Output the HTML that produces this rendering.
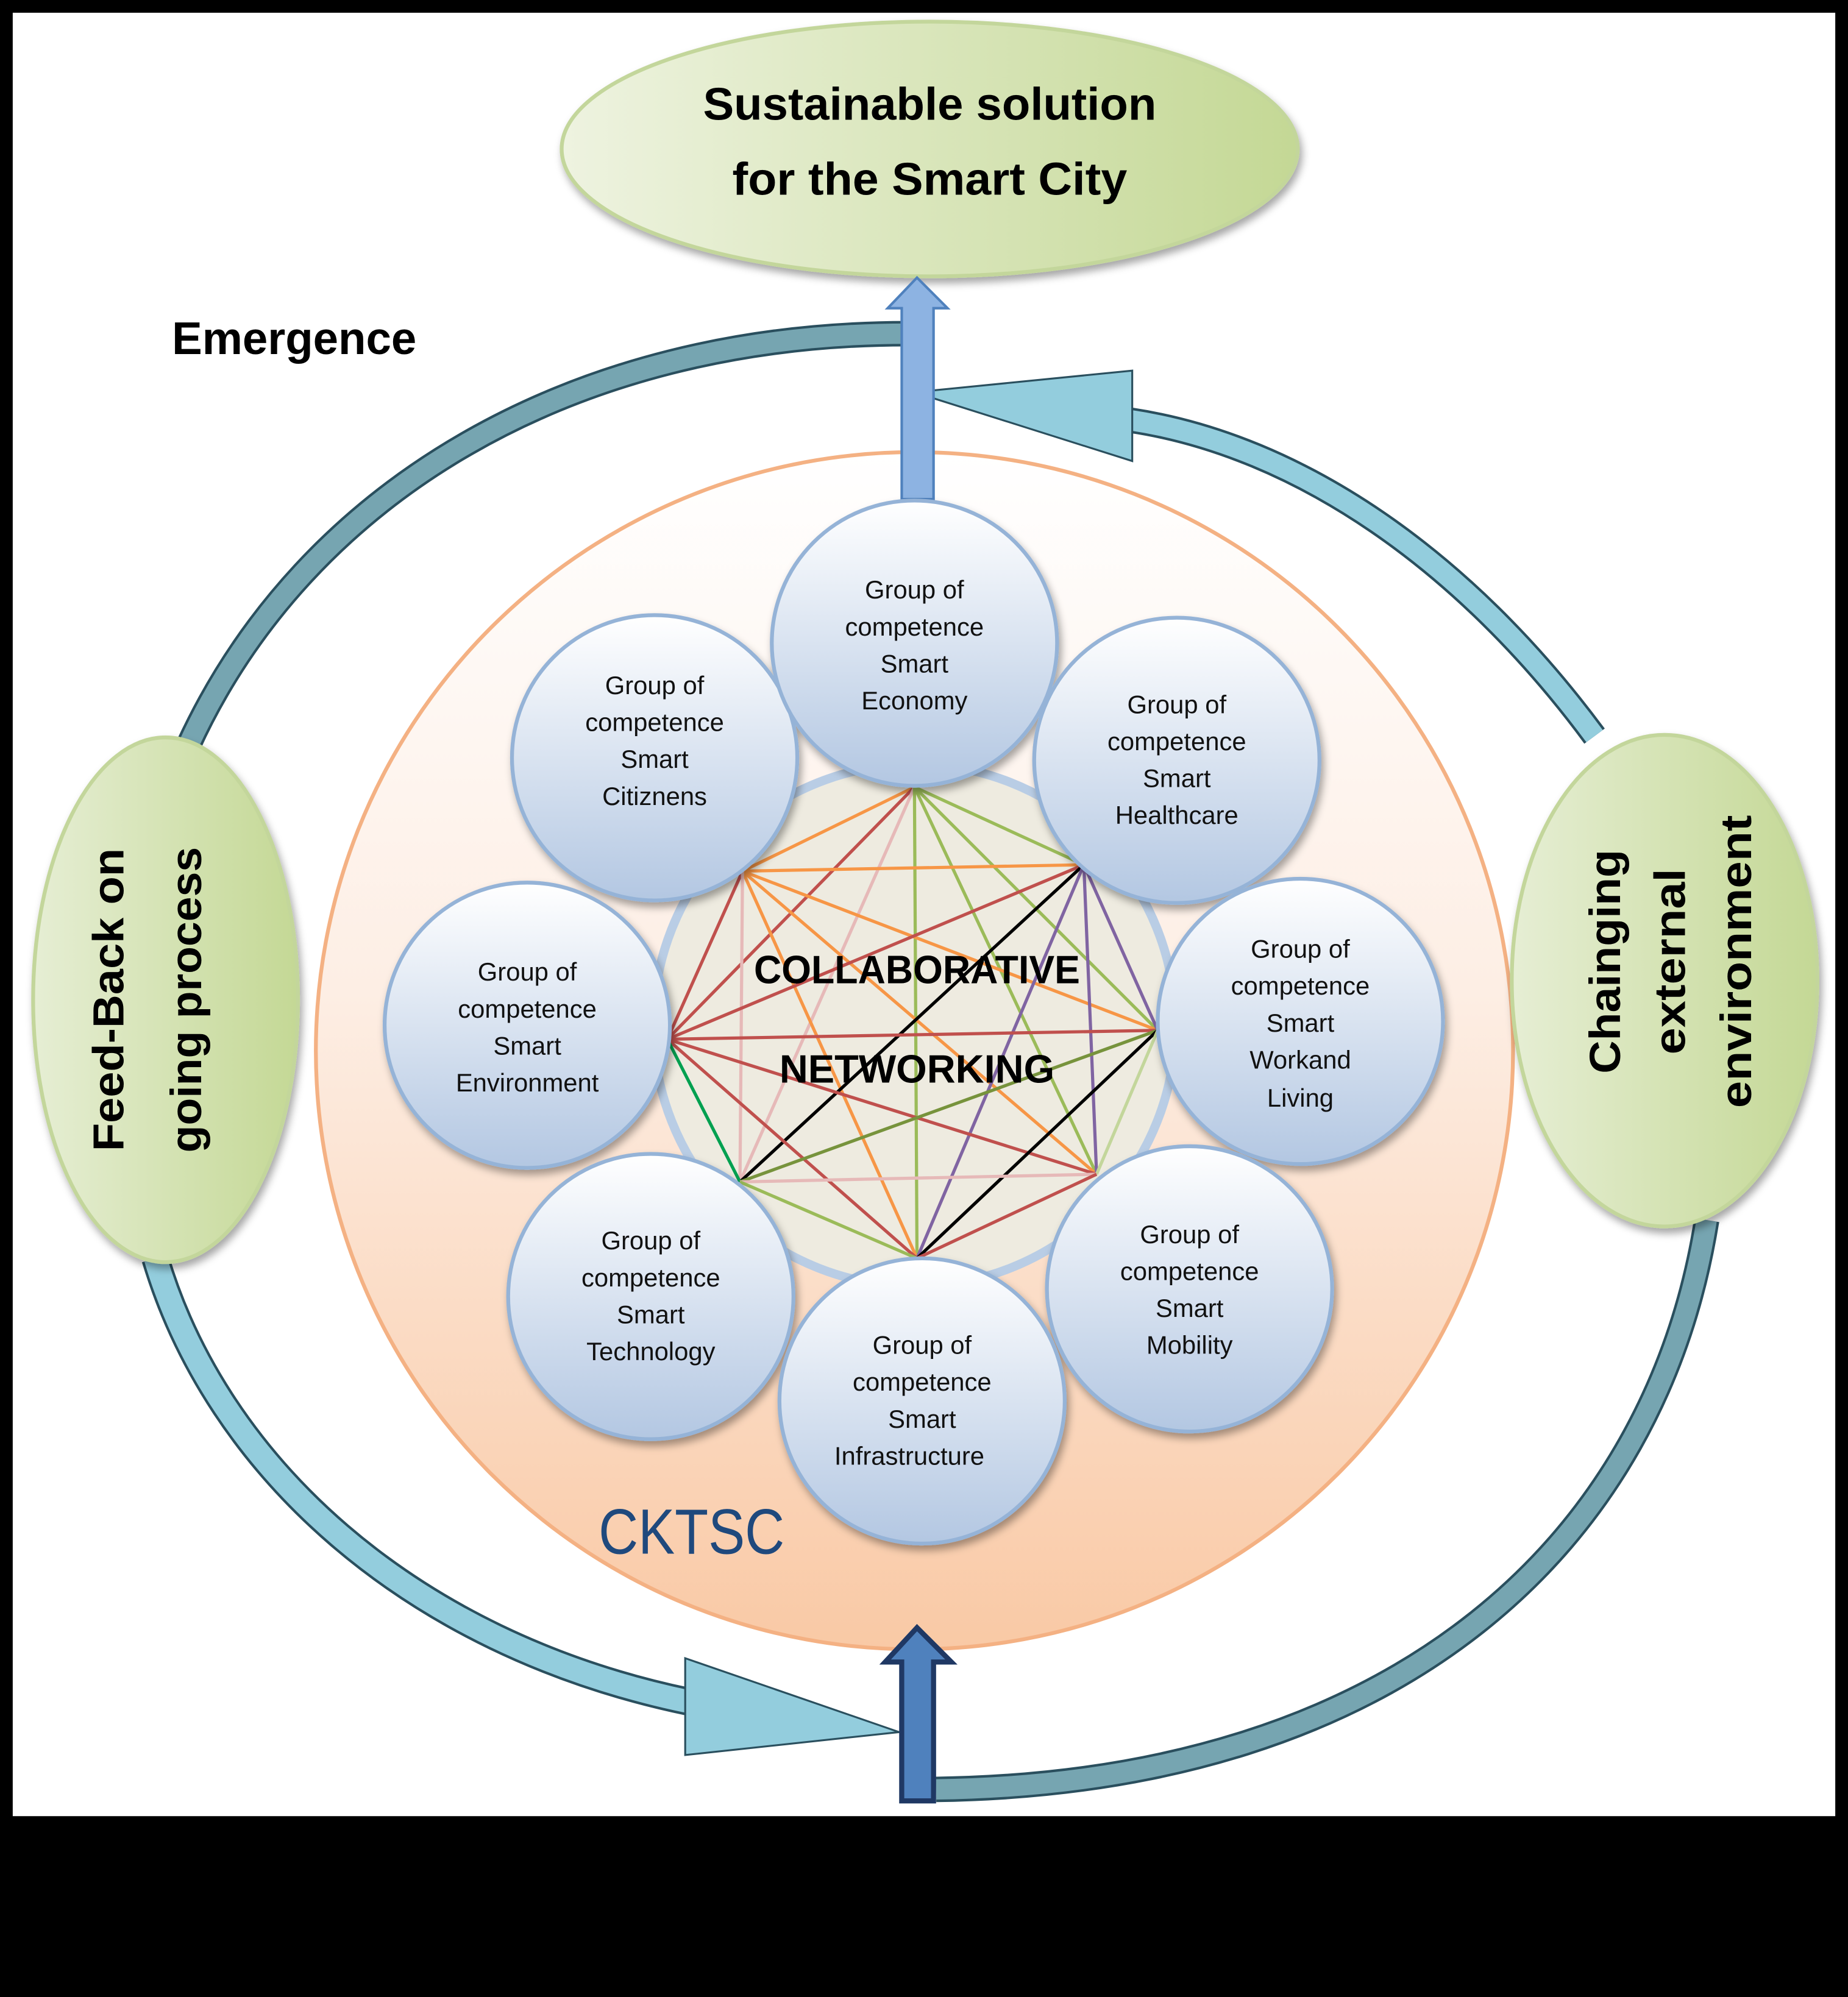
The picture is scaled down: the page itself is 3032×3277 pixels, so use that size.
<!DOCTYPE html>
<html><head><meta charset="utf-8"><style>html,body{margin:0;padding:0;background:#000}svg{display:block}</style></head>
<body>
<svg width="3032" height="3277" viewBox="0 0 1451 1568" preserveAspectRatio="none" xmlns="http://www.w3.org/2000/svg" font-family="'Liberation Sans', sans-serif">
<defs>
<linearGradient id="grn" x1="0" y1="0" x2="1" y2="0"><stop offset="0" stop-color="#eef3e0"/><stop offset="1" stop-color="#c4d895"/></linearGradient>
<linearGradient id="grnv" x1="0" y1="0" x2="1" y2="0"><stop offset="0" stop-color="#e6eed4"/><stop offset="1" stop-color="#c4d895"/></linearGradient>
<linearGradient id="org" x1="0" y1="0" x2="0" y2="1"><stop offset="0" stop-color="#ffffff"/><stop offset="0.45" stop-color="#fdeee4"/><stop offset="1" stop-color="#f9c9a5"/></linearGradient>
<linearGradient id="blu" x1="0" y1="0" x2="0" y2="1"><stop offset="0" stop-color="#ffffff"/><stop offset="1" stop-color="#b3c7e2"/></linearGradient>
<filter id="sh" x="-20%" y="-20%" width="140%" height="140%"><feDropShadow dx="2" dy="4" stdDeviation="3" flood-color="#000" flood-opacity="0.35"/></filter>
</defs>
<rect x="10" y="10" width="1431" height="1416" fill="#fff"/>

<!-- top ellipse -->
<ellipse cx="730" cy="117" rx="289" ry="100" fill="url(#grn)" stroke="#c3d69b" stroke-width="3" filter="url(#sh)"/>
<text x="730" y="94" font-size="36" font-weight="bold" text-anchor="middle" textLength="356" lengthAdjust="spacingAndGlyphs">Sustainable solution</text>
<text x="730" y="153" font-size="36" font-weight="bold" text-anchor="middle" textLength="310" lengthAdjust="spacingAndGlyphs">for the Smart City</text>
<text x="135" y="278" font-size="36" font-weight="bold" textLength="192" lengthAdjust="spacingAndGlyphs">Emergence</text>

<!-- arcs -->
<path d="M148,585 C240,385 450,262 712,262" fill="none" stroke="#2a4f5e" stroke-width="20"/>
<path d="M148,585 C240,385 450,262 712,262" fill="none" stroke="#76a5b1" stroke-width="16"/>
<path d="M1340,958 C1300,1210 1100,1400 735,1405" fill="none" stroke="#2a4f5e" stroke-width="20"/>
<path d="M1340,958 C1300,1210 1100,1400 735,1405" fill="none" stroke="#76a5b1" stroke-width="16"/>
<path d="M1252,578 C1150,440 1020,350 888,330" fill="none" stroke="#2a4f5e" stroke-width="20"/>
<path d="M1252,578 C1150,440 1020,350 888,330" fill="none" stroke="#93cddd" stroke-width="16"/>
<polygon points="889,291 718,308 889,362" fill="#93cddd" stroke="#2a4f5e" stroke-width="1.5"/>
<path d="M122,988 C170,1150 320,1290 540,1336" fill="none" stroke="#2a4f5e" stroke-width="22"/>
<path d="M122,988 C170,1150 320,1290 540,1336" fill="none" stroke="#93cddd" stroke-width="18"/>
<polygon points="538,1302 706,1360 538,1378" fill="#93cddd" stroke="#2a4f5e" stroke-width="1.5"/>

<!-- big orange circle -->
<circle cx="718" cy="825" r="470" fill="url(#org)" stroke="#f4b183" stroke-width="3"/>
<text x="470" y="1220" font-size="50" fill="#1f497d" textLength="146" lengthAdjust="spacingAndGlyphs">CKTSC</text>

<!-- top blue arrow -->
<polygon points="708,392 708,242 697,242 720,218 744,242 733,242 733,392" fill="#8db3e2" stroke="#4f81bd" stroke-width="2"/>

<!-- bottom arrow -->
<polygon points="708,1414 708,1305 695,1305 720,1278 747,1305 733,1305 733,1414" fill="#4f81bd" stroke="#1f3864" stroke-width="4"/>

<!-- inner circle -->
<circle cx="718" cy="805" r="205" fill="#eeebe0" stroke="#b9cde5" stroke-width="7"/>

<!-- network -->
<g stroke-width="2.5" fill="none">
<line x1="718" y1="618" x2="583" y2="684" stroke="#f79646"/>
<line x1="718" y1="618" x2="524" y2="816" stroke="#c0504d"/>
<line x1="718" y1="618" x2="581" y2="928" stroke="#e6b9b8"/>
<line x1="718" y1="618" x2="720" y2="988" stroke="#9bbb59"/>
<line x1="718" y1="618" x2="861" y2="922" stroke="#9bbb59"/>
<line x1="718" y1="618" x2="851" y2="679" stroke="#9bbb59"/>
<line x1="718" y1="618" x2="909" y2="809" stroke="#9bbb59"/>
<line x1="583" y1="684" x2="851" y2="679" stroke="#f79646"/>
<line x1="583" y1="684" x2="909" y2="809" stroke="#f79646"/>
<line x1="583" y1="684" x2="861" y2="922" stroke="#f79646"/>
<line x1="583" y1="684" x2="720" y2="988" stroke="#f79646"/>
<line x1="583" y1="684" x2="524" y2="816" stroke="#c0504d"/>
<line x1="583" y1="684" x2="581" y2="928" stroke="#e6b9b8"/>
<line x1="851" y1="679" x2="524" y2="816" stroke="#c0504d"/>
<line x1="851" y1="679" x2="581" y2="928" stroke="#000"/>
<line x1="851" y1="679" x2="720" y2="988" stroke="#8064a2"/>
<line x1="851" y1="679" x2="861" y2="922" stroke="#8064a2"/>
<line x1="851" y1="679" x2="909" y2="809" stroke="#8064a2"/>
<line x1="524" y1="816" x2="909" y2="809" stroke="#c0504d"/>
<line x1="524" y1="816" x2="861" y2="922" stroke="#c0504d"/>
<line x1="524" y1="816" x2="720" y2="988" stroke="#c0504d"/>
<line x1="524" y1="816" x2="581" y2="928" stroke="#00a050"/>
<line x1="909" y1="809" x2="581" y2="928" stroke="#77933c"/>
<line x1="909" y1="809" x2="720" y2="988" stroke="#000"/>
<line x1="909" y1="809" x2="861" y2="922" stroke="#c3d69b"/>
<line x1="581" y1="928" x2="861" y2="922" stroke="#e6b9b8"/>
<line x1="581" y1="928" x2="720" y2="988" stroke="#9bbb59"/>
<line x1="720" y1="988" x2="861" y2="922" stroke="#c0504d"/>
</g>
<text x="720" y="772" font-size="31" font-weight="bold" text-anchor="middle" textLength="256" lengthAdjust="spacingAndGlyphs">COLLABORATIVE</text>
<text x="720" y="850" font-size="31" font-weight="bold" text-anchor="middle" textLength="216" lengthAdjust="spacingAndGlyphs">NETWORKING</text>

<!-- group circles -->
<g fill="url(#blu)" stroke="#95b3d7" stroke-width="3" filter="url(#sh)">
<circle cx="514" cy="595" r="112"/>
<circle cx="924" cy="597" r="112"/>
<circle cx="414" cy="805" r="112"/>
<circle cx="1021" cy="802" r="112"/>
<circle cx="511" cy="1018" r="112"/>
<circle cx="934" cy="1012" r="112"/>
<circle cx="724" cy="1100" r="112"/>
<circle cx="718" cy="505" r="112"/>
</g>
<g font-size="20" text-anchor="middle" fill="#111">
<text x="718" y="470">Group of</text><text x="718" y="499">competence</text><text x="718" y="528">Smart</text><text x="718" y="557">Economy</text>
<text x="514" y="545">Group of</text><text x="514" y="574">competence</text><text x="514" y="603">Smart</text><text x="514" y="632">Citiznens</text>
<text x="924" y="560">Group of</text><text x="924" y="589">competence</text><text x="924" y="618">Smart</text><text x="924" y="647">Healthcare</text>
<text x="414" y="770">Group of</text><text x="414" y="799">competence</text><text x="414" y="828">Smart</text><text x="414" y="857">Environment</text>
<text x="1021" y="752">Group of</text><text x="1021" y="781">competence</text><text x="1021" y="810">Smart</text><text x="1021" y="839">Workand</text><text x="1021" y="869">Living</text>
<text x="511" y="981">Group of</text><text x="511" y="1010">competence</text><text x="511" y="1039">Smart</text><text x="511" y="1068">Technology</text>
<text x="934" y="976">Group of</text><text x="934" y="1005">competence</text><text x="934" y="1034">Smart</text><text x="934" y="1063">Mobility</text>
<text x="724" y="1063">Group of</text><text x="724" y="1092">competence</text><text x="724" y="1121">Smart</text><text x="714" y="1150">Infrastructure</text>
</g>

<!-- side ellipses -->
<ellipse cx="130" cy="785" rx="104" ry="206" fill="url(#grnv)" stroke="#c3d69b" stroke-width="3" filter="url(#sh)"/>
<text transform="translate(97,785) rotate(-90)" font-size="34" font-weight="bold" text-anchor="middle" textLength="238" lengthAdjust="spacingAndGlyphs">Feed-Back on</text>
<text transform="translate(158,785) rotate(-90)" font-size="34" font-weight="bold" text-anchor="middle" textLength="240" lengthAdjust="spacingAndGlyphs">going process</text>
<ellipse cx="1307" cy="770" rx="120" ry="193" fill="url(#grnv)" stroke="#c3d69b" stroke-width="3" filter="url(#sh)"/>
<text transform="translate(1272,755) rotate(-90)" font-size="34" font-weight="bold" text-anchor="middle" textLength="176" lengthAdjust="spacingAndGlyphs">Chainging</text>
<text transform="translate(1323,755) rotate(-90)" font-size="34" font-weight="bold" text-anchor="middle" textLength="146" lengthAdjust="spacingAndGlyphs">external</text>
<text transform="translate(1375,755) rotate(-90)" font-size="34" font-weight="bold" text-anchor="middle" textLength="230" lengthAdjust="spacingAndGlyphs">environment</text>
</svg>
</body></html>
